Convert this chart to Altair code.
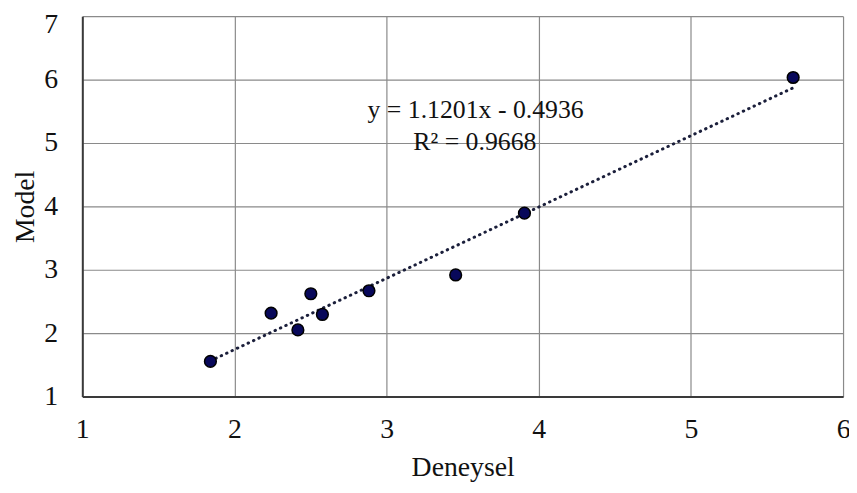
import altair as alt
import pandas as pd

# Data
deneysel = [1.842, 2.241, 2.417, 2.502, 2.578, 2.884, 3.454, 3.906, 5.672]
model = [1.554, 2.316, 2.051, 2.622, 2.295, 2.669, 2.918, 3.893, 6.033]

eq_text = ["y = 1.1201x - 0.4936", "R\u00b2 = 0.9668"]
eq_x = [3.585, 3.58]
eq_y = [5.515, 5.017]

x_ticks = [1, 2, 3, 4, 5, 6]
y_ticks = [1, 2, 3, 4, 5, 6, 7]

df = pd.DataFrame({"x": deneysel, "y": model})
ann = pd.DataFrame({"t": eq_text, "x": eq_x, "y": eq_y})

FONT = "Liberation Serif"

xs = alt.Scale(domain=[1, 6], nice=False, zero=False)
ys = alt.Scale(domain=[1, 7], nice=False, zero=False)

xax = alt.Axis(values=x_ticks, title="Deneysel", grid=True, ticks=False, tickSize=0,
               labelPadding=19, titlePadding=11, format="d", labelFlush=False)
yax = alt.Axis(values=y_ticks, title="Model", grid=True, ticks=False, tickSize=0,
               labelPadding=25, titlePadding=4, format="d", labelFlush=False,
               labelOffset={"condition": {"test": "datum.value == 7", "value": 8}, "value": 0})

base = alt.Chart(df)

trend = base.transform_regression("x", "y").mark_line(
    color="#1b1f3b", strokeWidth=3, strokeDash=[0.5, 5.5], strokeCap="round"
).encode(
    x=alt.X("x:Q", scale=xs, axis=xax),
    y=alt.Y("y:Q", scale=ys, axis=yax),
)

points = base.mark_point(
    filled=True, shape="circle", size=140, fill="#08085a", stroke="#000000",
    strokeWidth=1.5, opacity=1
).encode(
    x=alt.X("x:Q", scale=xs),
    y=alt.Y("y:Q", scale=ys),
)

text = alt.Chart(ann).mark_text(
    font=FONT, fontSize=26, color="#111111", align="center", baseline="middle"
).encode(
    x=alt.X("x:Q", scale=xs),
    y=alt.Y("y:Q", scale=ys),
    text="t:N",
)

chart = alt.layer(trend, points, text).properties(
    width=768, height=384,
    autosize=alt.AutoSizeParams(type="none"),
    padding={"left": 75, "top": 6, "right": 6, "bottom": 87},
).configure_view(stroke=None).configure_axis(
    labelFont=FONT, titleFont=FONT, labelFontSize=28, titleFontSize=28,
    labelColor="#111111", titleColor="#111111", titleFontWeight="normal",
    gridColor="#8a8a8a", gridWidth=1.2, gridOpacity=1,
    domainColor="#3a3a3a", domainWidth=2,
)

chart.save("out.html", embed_options={"renderer": "svg", "actions": False})
